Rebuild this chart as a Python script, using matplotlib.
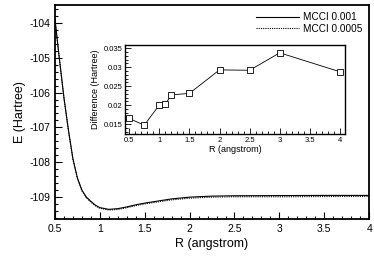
import matplotlib
matplotlib.use("Agg")
import matplotlib.pyplot as plt
from matplotlib.ticker import MultipleLocator

plt.rcParams['font.family'] = ['Liberation Sans', 'DejaVu Sans']
plt.rcParams['axes.unicode_minus'] = False

# Main curve data
R = [0.5, 0.55, 0.6, 0.65, 0.7, 0.75, 0.8, 0.85, 0.9, 0.95, 1.0, 1.1, 1.2,
     1.3, 1.4, 1.5, 1.6, 1.8, 2.0, 2.25, 2.5, 3.0, 3.5, 4.0]
E_001 = [-103.9, -105.05, -106.15, -107.08, -107.9, -108.45, -108.8, -109.0,
         -109.12, -109.23, -109.30, -109.35, -109.33, -109.28, -109.22, -109.17,
         -109.13, -109.05, -109.00, -108.97, -108.96, -108.955, -108.95, -108.95]
E_0005 = [-103.916, -105.065, -106.164, -107.095, -107.92, -108.465, -108.82,
          -109.02, -109.14, -109.25, -109.32, -109.37, -109.352, -109.302,
          -109.243, -109.193, -109.155, -109.078, -109.029, -108.999, -108.989,
          -108.989, -108.983, -108.979]

# Inset difference data
R_diff = [0.5, 0.75, 1.0, 1.1, 1.2, 1.5, 2.0, 2.5, 3.0, 4.0]
diff = [0.0165, 0.0147, 0.0200, 0.0202, 0.0227, 0.0231, 0.0293, 0.0292, 0.0338, 0.0288]

fig = plt.figure(figsize=(3.74, 2.64), dpi=100)
ax = fig.add_axes([0.147, 0.170, 0.840, 0.811])
ax.plot(R, E_001, color='black', lw=0.8, ls='-', label='MCCI 0.001')
ax.plot(R, E_0005, color='black', lw=0.8, ls=(0, (1, 1)), label='MCCI 0.0005')
ax.set_xlim(0.5, 4.0)
ax.set_ylim(-109.63, -103.49)
ax.xaxis.set_major_locator(MultipleLocator(0.5))
ax.xaxis.set_minor_locator(MultipleLocator(0.1))
ax.yaxis.set_major_locator(MultipleLocator(1))
ax.yaxis.set_minor_locator(MultipleLocator(0.2))
ax.tick_params(which='both', direction='in', top=False, right=False, labelsize=7.5, width=0.8)
ax.tick_params(which='major', length=5)
ax.tick_params(which='minor', length=2.5)
ax.set_xticks([0.5, 1, 1.5, 2, 2.5, 3, 3.5, 4])
ax.set_xticklabels(['0.5', '1', '1.5', '2', '2.5', '3', '3.5', '4'])
ax.set_xlabel('R (angstrom)', fontsize=9, labelpad=3)
ax.set_ylabel('E (Hartree)', fontsize=9, labelpad=2)
for s in ax.spines.values():
    s.set_linewidth(1.3)
leg = ax.legend(loc='upper right', frameon=False, fontsize=7.2, handlelength=4.3,
                borderaxespad=0.3, labelspacing=0.15, handletextpad=0.4)

ins = fig.add_axes([0.334, 0.492, 0.588, 0.338])
ins.plot(R_diff, diff, color='black', lw=0.6, marker='s', markersize=4,
         markerfacecolor='white', markeredgecolor='black', markeredgewidth=0.6)
ins.set_xlim(0.43, 4.08)
ins.set_ylim(0.01235, 0.0359)
ins.xaxis.set_major_locator(MultipleLocator(0.5))
ins.xaxis.set_minor_locator(MultipleLocator(0.1))
ins.yaxis.set_major_locator(MultipleLocator(0.005))
ins.yaxis.set_minor_locator(MultipleLocator(0.001))
ins.tick_params(which='both', direction='in', top=False, right=False, labelsize=5.5, width=0.6, pad=2)
ins.tick_params(which='major', length=4)
ins.tick_params(which='minor', length=2)
ins.set_xticks([0.5, 1, 1.5, 2, 2.5, 3, 3.5, 4])
ins.set_xticklabels(['0.5', '1', '1.5', '2', '2.5', '3', '3.5', '4'])
ins.set_yticks([0.015, 0.02, 0.025, 0.03, 0.035])
ins.set_yticklabels(['0.015', '0.02', '0.025', '0.03', '0.035'])
ins.set_xlabel('R (angstrom)', fontsize=6.5, labelpad=1)
ins.set_ylabel('Difference (Hartree)', fontsize=6.5, labelpad=2)
for s in ins.spines.values():
    s.set_linewidth(1.0)

fig.savefig('out.png', dpi=100)
